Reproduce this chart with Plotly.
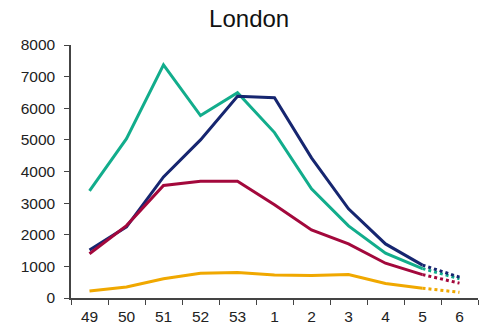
import plotly.graph_objects as go

weeks = ["49", "50", "51", "52", "53", "1", "2", "3", "4", "5", "6"]
teal_vals = [3390, 5040, 7370, 5770, 6490, 5230, 3450, 2280, 1420, 930, 610]
navy_vals = [1520, 2250, 3830, 5000, 6380, 6330, 4430, 2820, 1710, 1040, 660]
red_vals = [1400, 2290, 3560, 3690, 3690, 2950, 2150, 1710, 1100, 740, 470]
yellow_vals = [220, 350, 610, 780, 810, 730, 710, 740, 460, 310, 180]

series = [
    ("Teal", teal_vals, "#12AD8C"),
    ("Navy", navy_vals, "#162670"),
    ("Red", red_vals, "#A3083C"),
    ("Yellow", yellow_vals, "#F0A800"),
]

fig = go.Figure()
for name, vals, col in series:
    fig.add_trace(go.Scatter(x=weeks[:10], y=vals[:10], mode="lines",
                             line=dict(color=col, width=3), name=name,
                             showlegend=False))
    fig.add_trace(go.Scatter(x=weeks[9:], y=vals[9:], mode="lines",
                             line=dict(color=col, width=3, dash="dot"),
                             name=name + " (provisional)", showlegend=False))

font_family = "Liberation Sans, Arial, sans-serif"
fig.update_layout(
    width=481, height=335,
    margin=dict(l=71, r=3, t=45, b=37),
    paper_bgcolor="white", plot_bgcolor="white",
    title=dict(text="London", x=0.518, xanchor="center", y=0.943, yanchor="middle",
               font=dict(family=font_family, size=24, color="#111")),
    font=dict(family=font_family, size=15.5, color="#222"),
    xaxis=dict(type="category", categoryorder="array", categoryarray=weeks,
               range=[-0.5, 10.5], showgrid=False, showline=True,
               linecolor="#444", linewidth=1.5, ticks="outside",
               tickson="boundaries", ticklen=5, tickcolor="#444",
               ticklabelstandoff=4,
               tickfont=dict(size=15.5, color="#222"), zeroline=False),
    yaxis=dict(range=[0, 8000], tickvals=[0, 1000, 2000, 3000, 4000, 5000, 6000, 7000, 8000],
               showgrid=False, showline=True, linecolor="#444", linewidth=1.5,
               ticks="outside", ticklen=5, tickcolor="#444",
               ticklabelstandoff=6,
               tickfont=dict(size=15.5, color="#222"), zeroline=False),
)

fig.write_html("out.html",
               config={"displayModeBar": False},
               post_script="document.body.style.margin='0';document.body.style.padding='0';")
